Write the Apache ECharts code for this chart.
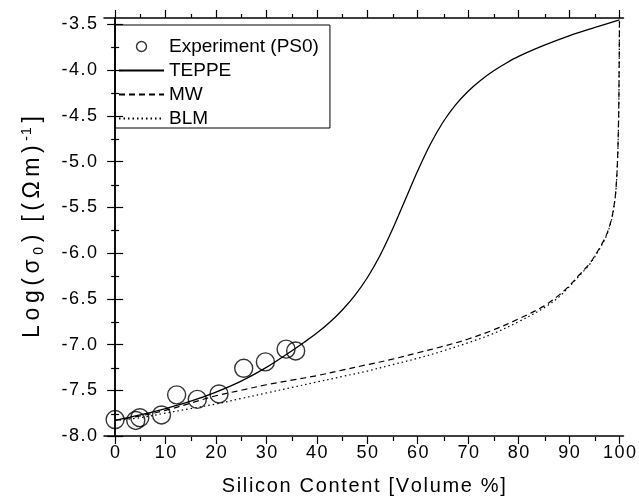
<!DOCTYPE html>
<html>
<head>
<meta charset="utf-8">
<script src="https://cdn.jsdelivr.net/npm/echarts@6/dist/echarts.min.js"></script>
<style>
  html, body { margin: 0; padding: 0; background: #fff; }
  #chart { width: 639px; height: 501px; }
</style>
</head>
<body>
<div id="chart"></div>
<script>
// Measured conductivity of the PS0 samples
const expX = [0, 4.1, 4.9, 9.2, 12.2, 16.3, 20.6, 25.5, 29.8, 33.9, 35.8];
const expY = [-7.82, -7.83, -7.80, -7.77, -7.55, -7.60, -7.54, -7.26, -7.19, -7.05, -7.07];

// TEPPE model curve
const teppeX = [0, 5, 10, 15, 20, 25, 30, 35, 37.5, 40, 42.5, 45, 47.5, 50, 52.5, 55, 57.5, 60, 62.5, 65, 67.5, 70, 72.5, 75, 77.5, 80, 85, 90, 95, 100];
const teppeY = [-7.83, -7.77, -7.70, -7.62, -7.52, -7.40, -7.25, -7.07, -6.975, -6.875, -6.76, -6.625, -6.465, -6.27, -6.03, -5.74, -5.42, -5.10, -4.81, -4.57, -4.38, -4.23, -4.11, -4.01, -3.925, -3.85, -3.73, -3.625, -3.535, -3.45];

// Maxwell-Wagner model curve
const mwX = [0, 5, 10, 15, 20, 25, 30, 35, 40, 45, 50, 55, 60, 65, 70, 75, 80, 85, 88, 90, 92, 94, 95, 96, 97, 97.5, 98, 98.5, 99, 99.3, 99.6, 99.8, 99.9, 100];
const mwY = [-7.83, -7.78, -7.72, -7.64, -7.56, -7.50, -7.44, -7.39, -7.34, -7.28, -7.22, -7.16, -7.09, -7.02, -6.94, -6.84, -6.72, -6.58, -6.46, -6.36, -6.24, -6.12, -6.04, -5.95, -5.85, -5.79, -5.71, -5.61, -5.45, -5.30, -5.00, -4.60, -4.20, -3.45];

// Bruggeman-Landauer model curve
const blmX = [0, 5, 10, 15, 20, 25, 30, 35, 40, 45, 50, 55, 60, 65, 70, 75, 80, 85, 88, 90, 92, 94, 95, 96, 97, 97.5, 98, 98.5, 99, 99.3, 99.6, 99.8, 99.9, 100];
const blmY = [-7.83, -7.80, -7.75, -7.70, -7.65, -7.59, -7.53, -7.47, -7.41, -7.35, -7.29, -7.22, -7.15, -7.07, -6.98, -6.88, -6.75, -6.60, -6.48, -6.37, -6.25, -6.13, -6.05, -5.96, -5.86, -5.80, -5.72, -5.62, -5.46, -5.31, -5.01, -4.61, -4.21, -3.45];

// Axis ticks
const xMajor = [0, 10, 20, 30, 40, 50, 60, 70, 80, 90, 100];
const xMinor = [5, 15, 25, 35, 45, 55, 65, 75, 85, 95];
const yMajor = [-8.0, -7.5, -7.0, -6.5, -6.0, -5.5, -5.0, -4.5, -4.0, -3.5];
const yMinor = [-7.75, -7.25, -6.75, -6.25, -5.75, -5.25, -4.75, -4.25, -3.75];

const X_MIN = -2.2, X_MAX = 100.8, Y_MIN = -8.0, Y_MAX = -3.43;
const FONT = "'Liberation Sans', Arial, sans-serif";
const HAIR = '\u200A';
const THIN = '\u2009';

const pairs = (xs, ys) => xs.map((x, i) => [x, ys[i]]);
// open up the glyph spacing a little, the way the plotting package set its text
const spaced = (s, gap) => s.split('').join(gap || HAIR);

const gridBox = { left: 104, right: 14, top: 18, bottom: 64 };
const frameLine = { show: true, lineStyle: { color: '#000', width: 1.5 } };

function xAx(grid, pos, ticks, len, extra) {
  return Object.assign({
    type: 'value', gridIndex: grid, position: pos, min: X_MIN, max: X_MAX,
    axisLine: frameLine,
    axisTick: { show: true, inside: false, length: len, customValues: ticks, lineStyle: { color: '#000', width: 1.2 } },
    axisLabel: { show: false },
    splitLine: { show: false }
  }, extra || {});
}
function yAx(grid, pos, ticks, len, extra) {
  return Object.assign({
    type: 'value', gridIndex: grid, position: pos, min: Y_MIN, max: Y_MAX,
    axisLine: frameLine,
    axisTick: { show: true, inside: false, length: len, customValues: ticks, lineStyle: { color: '#000', width: 1.2 } },
    axisLabel: { show: false },
    splitLine: { show: false }
  }, extra || {});
}

const yTitle = spaced('Log(σ', THIN) + THIN + '{sub|0}' + THIN + ')  ' + spaced('[(Ωm)', THIN) + THIN +
  '{sup|-' + HAIR + '1}' + THIN + ']';
const hiddenIcon = { color: 'rgba(0,0,0,0)', borderWidth: 0 };

const chart = echarts.init(document.getElementById('chart'), null, { renderer: 'canvas' });

chart.setOption({
  backgroundColor: '#fff',
  animation: false,
  textStyle: { fontFamily: FONT, color: '#000' },
  grid: [Object.assign({}, gridBox), Object.assign({}, gridBox)],
  xAxis: [
    xAx(0, 'bottom', xMajor, 8, {
      axisLabel: { show: true, customValues: xMajor, margin: 8, fontSize: 18, color: '#000', fontFamily: FONT,
        formatter: v => spaced(String(v)) },
      name: spaced('Silicon Content [Volume %]'), nameLocation: 'middle', nameGap: 40,
      nameTextStyle: { fontSize: 20, color: '#000', fontFamily: FONT }
    }),
    xAx(0, 'top', xMajor, 8),
    xAx(1, 'bottom', xMinor, 4, { axisLine: { show: false } }),
    xAx(1, 'top', xMinor, 4, { axisLine: { show: false } })
  ],
  yAxis: [
    yAx(0, 'left', yMajor, 8, {
      axisLabel: { show: true, customValues: yMajor, margin: 7, fontSize: 18, color: '#000', fontFamily: FONT,
        formatter: v => spaced(v.toFixed(1)) },
      name: yTitle, nameLocation: 'middle', nameGap: 58,
      nameTextStyle: {
        fontSize: 23, color: '#000', fontFamily: FONT,
        rich: {
          sub: { fontSize: 14, color: '#000', fontFamily: FONT, padding: [12, 0, 0, 0] },
          sup: { fontSize: 14, color: '#000', fontFamily: FONT, padding: [0, 0, 12, 0] }
        }
      }
    }),
    yAx(0, 'right', yMajor, 8),
    yAx(1, 'left', yMinor, 4, { axisLine: { show: false } }),
    yAx(1, 'right', yMinor, 4, { axisLine: { show: false } })
  ],
  legend: {
    orient: 'vertical', left: 115, top: 25,
    itemWidth: 45, itemHeight: 10, itemGap: 5,
    padding: [12, 11, 0, 3],
    borderColor: '#000', borderWidth: 1,
    textStyle: { fontSize: 19, color: '#000', fontFamily: FONT },
    data: [
      { name: 'Experiment (PS0)', itemStyle: { color: 'rgba(0,0,0,0)', borderColor: '#000', borderWidth: 1.4 } },
      { name: 'TEPPE', itemStyle: hiddenIcon },
      { name: 'MW', itemStyle: hiddenIcon },
      { name: 'BLM', itemStyle: hiddenIcon }
    ]
  },
  series: [
    {
      name: 'TEPPE', type: 'line', xAxisIndex: 0, yAxisIndex: 0,
      data: pairs(teppeX, teppeY), symbol: 'none', smooth: 0.35,
      lineStyle: { color: '#000', width: 1.3, type: 'solid' }
    },
    {
      name: 'MW', type: 'line', xAxisIndex: 0, yAxisIndex: 0,
      data: pairs(mwX, mwY), symbol: 'none', smooth: 0.35,
      lineStyle: { color: '#000', width: 1.2, type: [6, 4] }
    },
    {
      name: 'BLM', type: 'line', xAxisIndex: 0, yAxisIndex: 0,
      data: pairs(blmX, blmY), symbol: 'none', smooth: 0.35,
      lineStyle: { color: '#000', width: 1.2, type: [1.5, 3] }
    },
    {
      name: 'Experiment (PS0)', type: 'scatter', xAxisIndex: 0, yAxisIndex: 0,
      data: pairs(expX, expY), symbol: 'circle', symbolSize: 18,
      itemStyle: { color: 'rgba(0,0,0,0)', borderColor: '#000', borderWidth: 1.4 },
      z: 5
    }
  ]
});
</script>
</body>
</html>
